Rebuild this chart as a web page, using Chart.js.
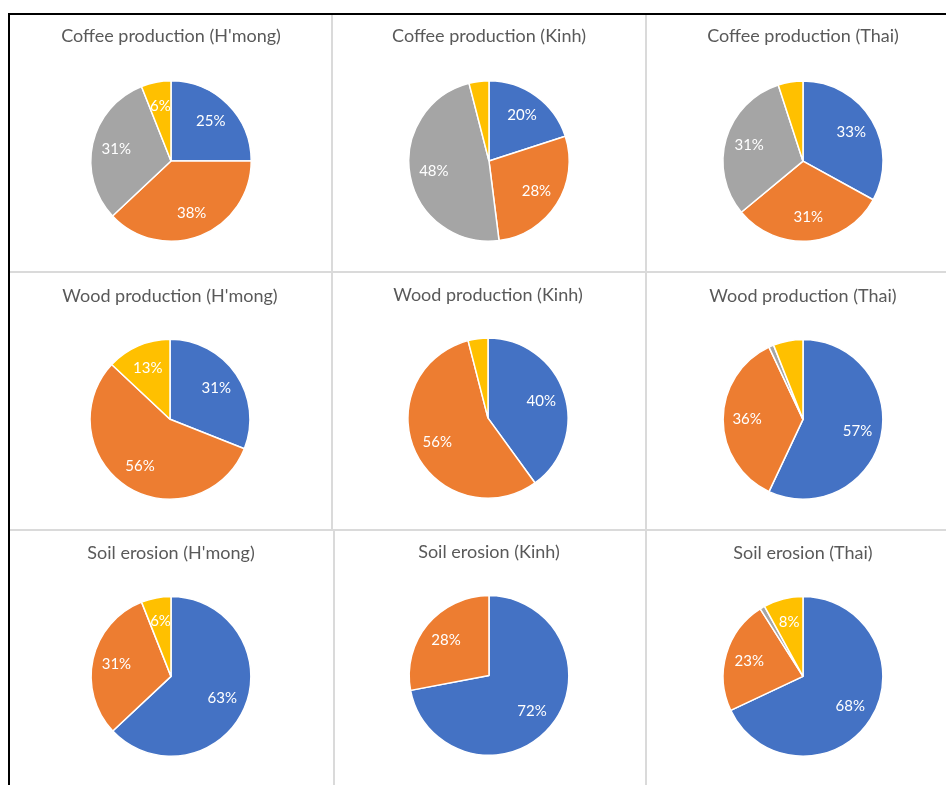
<!DOCTYPE html>
<html>
<head>
<meta charset="utf-8">
<script src="https://cdn.jsdelivr.net/npm/chart.js@4/dist/chart.umd.min.js"></script>
<style>
  html, body { margin: 0; padding: 0; background: #ffffff; overflow: hidden; }
  body { width: 946px; height: 785px; position: relative; }
  .line { position: absolute; }
  .grey { background: #dadada; }
  .black { background: #000000; }
  canvas { position: absolute; }
</style>
</head>
<body>
<div class="line grey" style="left:331px;top:14px;width:2px;height:517px"></div>
<div class="line grey" style="left:333px;top:530px;width:2px;height:255px"></div>
<div class="line grey" style="left:645px;top:14px;width:2px;height:771px"></div>
<div class="line grey" style="left:10px;top:271px;width:936px;height:2px"></div>
<div class="line grey" style="left:10px;top:529px;width:936px;height:2px"></div>
<div class="line black" style="left:8px;top:13px;width:938px;height:2px"></div>
<div class="line black" style="left:8px;top:13px;width:2px;height:772px"></div>
<script>
// ---- data ----
const categories = ['Category 1', 'Category 2', 'Category 3', 'Category 4'];
const chartTitles = [
  "Coffee production (H'mong)", "Coffee production (Kinh)", "Coffee production (Thai)",
  "Wood production (H'mong)", "Wood production (Kinh)", "Wood production (Thai)",
  "Soil erosion (H'mong)", "Soil erosion (Kinh)", "Soil erosion (Thai)"
];
const coffeeHmong = [25, 38, 31, 6];
const coffeeKinh  = [20, 28, 48, 4];
const coffeeThai  = [33, 31, 31, 5];
const woodHmong   = [31, 56, 0, 13];
const woodKinh    = [40, 56, 0, 4];
const woodThai    = [57, 36, 1, 6];
const soilHmong   = [63, 31, 0, 6];
const soilKinh    = [72, 28, 0, 0];
const soilThai    = [68, 23, 1, 8];
// which slices carry a data label (1 = shown)
const coffeeHmongShown = [1, 1, 1, 1];
const coffeeKinhShown  = [1, 1, 1, 0];
const coffeeThaiShown  = [1, 1, 1, 0];
const woodHmongShown   = [1, 1, 0, 1];
const woodKinhShown    = [1, 1, 0, 0];
const woodThaiShown    = [1, 1, 0, 0];
const soilHmongShown   = [1, 1, 0, 1];
const soilKinhShown    = [1, 1, 0, 0];
const soilThaiShown    = [1, 1, 0, 1];

const seriesList = [coffeeHmong, coffeeKinh, coffeeThai, woodHmong, woodKinh, woodThai, soilHmong, soilKinh, soilThai];
const shownList = [coffeeHmongShown, coffeeKinhShown, coffeeThaiShown, woodHmongShown, woodKinhShown, woodThaiShown, soilHmongShown, soilKinhShown, soilThaiShown];

// ---- layout & style ----
const sliceColors = ['#4472C4', '#ED7D31', '#A5A5A5', '#FFC000'];
const layout = [
  {cx: 170.5, cy: 161, ty: 36}, {cx: 488.8, cy: 161, ty: 36}, {cx: 803, cy: 161.3, ty: 36},
  {cx: 170.3, cy: 419.5, ty: 296}, {cx: 488.3, cy: 417.8, ty: 294.5}, {cx: 802.7, cy: 419.7, ty: 296},
  {cx: 170.7, cy: 676.7, ty: 553}, {cx: 489.3, cy: 675.3, ty: 551.5}, {cx: 802.7, cy: 676.7, ty: 553}
];
const TITLE_SIZE = 18;
const LABEL_SIZE = 15;
const RADIUS = 80;
const BORDER = 1.5;
const CANVAS_W = 280;

function makeLabelPlugin(values, shown) {
  return {
    id: 'sliceLabels',
    afterDatasetsDraw(chart) {
      const ctx = chart.ctx;
      const meta = chart.getDatasetMeta(0);
      ctx.save();
      ctx.fillStyle = '#ffffff';
      ctx.font = LABEL_SIZE + 'px Lato, "Open Sans", sans-serif';
      ctx.textAlign = 'center';
      ctx.textBaseline = 'middle';
      meta.data.forEach((arc, i) => {
        if (!shown[i]) return;
        const p = arc.getProps(['x', 'y', 'startAngle', 'endAngle', 'outerRadius'], true);
        const mid = (p.startAngle + p.endAngle) / 2;
        const d = p.outerRadius * 0.7;
        ctx.fillText(values[i] + '%', p.x + Math.cos(mid) * d, p.y + Math.sin(mid) * d);
      });
      ctx.restore();
    }
  };
}

layout.forEach((L, k) => {
  const p1 = 4;
  const lineH = TITLE_SIZE * 1.2;
  const canvasTop = L.ty - p1 - lineH / 2;
  const areaTop = L.cy - RADIUS - BORDER / 2;
  const p2 = areaTop - canvasTop - p1 - lineH;
  const H = Math.round(L.cy + RADIUS + BORDER / 2 - canvasTop);
  const cv = document.createElement('canvas');
  cv.width = CANVAS_W; cv.height = H;
  cv.style.width = CANVAS_W + 'px'; cv.style.height = H + 'px';
  cv.style.left = (L.cx - CANVAS_W / 2) + 'px';
  cv.style.top = canvasTop + 'px';
  document.body.appendChild(cv);
  new Chart(cv, {
    type: 'pie',
    data: {
      labels: categories,
      datasets: [{
        data: seriesList[k],
        backgroundColor: sliceColors,
        borderColor: '#ffffff',
        borderWidth: BORDER
      }]
    },
    options: {
      responsive: false,
      animation: false,
      devicePixelRatio: 1,
      layout: {padding: 0},
      plugins: {
        legend: {display: false},
        tooltip: {enabled: false},
        title: {
          display: true,
          text: chartTitles[k],
          color: '#595959',
          font: {family: 'Lato, "Open Sans", sans-serif', size: TITLE_SIZE, weight: 'normal'},
          padding: {top: p1, bottom: p2}
        }
      }
    },
    plugins: [makeLabelPlugin(seriesList[k], shownList[k])]
  });
});
</script>
</body>
</html>
